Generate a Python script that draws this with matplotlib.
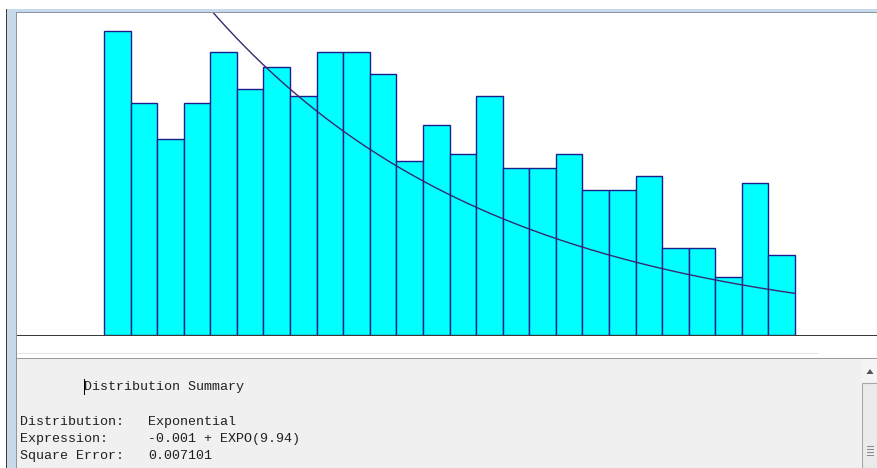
import numpy as np
import matplotlib
matplotlib.use("Agg")
import matplotlib.pyplot as plt
from matplotlib.patches import Rectangle, Polygon

# histogram counts (26 bins)
counts = [42, 32, 27, 32, 39, 34, 37, 33, 39, 39, 36, 24, 29,
          25, 33, 23, 23, 25, 20, 20, 22, 12, 12, 8, 21, 11]
bin_width = 0.93
offset = -0.001
mean = 9.94

summary_title = "Distribution Summary"
summary_keys = ["Distribution:", "Expression:", "Square Error:"]
summary_vals = ["Exponential", "-0.001 + EXPO(9.94)", "0.007101"]

W, H = 878, 468
fig = plt.figure(figsize=(W / 100, H / 100), dpi=100)
fig.patch.set_facecolor("white")


def px_rect(x0, y0, x1, y1):
    # pixel box (top-left origin) -> figure fraction [l, b, w, h]
    return [x0 / W, 1 - y1 / H, (x1 - x0) / W, (y1 - y0) / H]


def box(x0, y0, x1, y1, fc, ec="none", lw=0, z=0):
    fig.patches.append(Rectangle((x0 / W, 1 - y1 / H), (x1 - x0) / W, (y1 - y0) / H,
                                 transform=fig.transFigure, fc=fc, ec=ec, lw=lw, zorder=z))


# window chrome
box(7, 9, 16, H, "#c8d9ea", z=0)
box(7, 9, 878, 12, "#c8d9ea", z=0)
box(6.5, 9, 7.5, H, "#3c3c3c", z=1)
box(16, 12, 17, H, "#8a96a4", z=1)
box(16, 12, 878, 13, "#8a96a4", z=1)

# histogram axes
ax = fig.add_axes(px_rect(17, 13, 878, 335))
ax.set_facecolor("white")
edges = np.arange(len(counts)) * bin_width
ax.bar(edges, counts, width=bin_width, align="edge", color="#00ffff",
       edgecolor="#1c1c8a", linewidth=1.0)
n = sum(counts)
xs = np.linspace(0, len(counts) * bin_width, 400)
ys = n * bin_width * np.exp(-(xs - offset) / mean) / mean
ax.plot(xs, ys, color="#3a2870", lw=1.0)
ax.set_xlim(-(104 - 17) / 28.58, (878 - 104) / 28.58)
ax.set_ylim(0, (335 - 13) / 7.25)
ax.axis("off")
box(17, 334.5, 878, 336, "#3a3a3a", z=5)

# faint separator and summary panel
box(17, 353, 818, 354, "#e4e4e4", z=1)
box(17, 358, 878, H, "#f0f0f0", z=1)
box(17, 357.5, 878, 359, "#9a9a9a", z=2)

# scrollbar
box(861, 359, 878, H, "#f4f4f4", z=2)
box(862, 383, 878, H, "#ebebeb", ec="#a8a8a8", lw=0.8, z=3)
fig.patches.append(Polygon([[866.5 / W, 1 - 374 / H], [873.5 / W, 1 - 374 / H], [870 / W, 1 - 369 / H]],
                           closed=True, transform=fig.transFigure, fc="#555555", ec="none", zorder=4))
for gy in (446, 449, 452, 455):
    box(867, gy, 874, gy + 1, "#8a8a8a", z=4)

mono = "Liberation Mono"
fs = 9.6
fig.text(84 / W, 1 - 387 / H, summary_title, family=mono, fontsize=fs,
         va="center", ha="left", color="#202020", zorder=6)
box(84, 379, 85, 395, "#000000", z=7)  # text cursor
for i, (k, v) in enumerate(zip(summary_keys, summary_vals)):
    yy = 422 + i * 17
    fig.text(20 / W, 1 - yy / H, k, family=mono, fontsize=fs, va="center", ha="left",
             color="#202020", zorder=6)
    fig.text(148 / W, 1 - yy / H, v, family=mono, fontsize=fs, va="center", ha="left",
             color="#202020", zorder=6)

fig.savefig("out.png", dpi=100)
